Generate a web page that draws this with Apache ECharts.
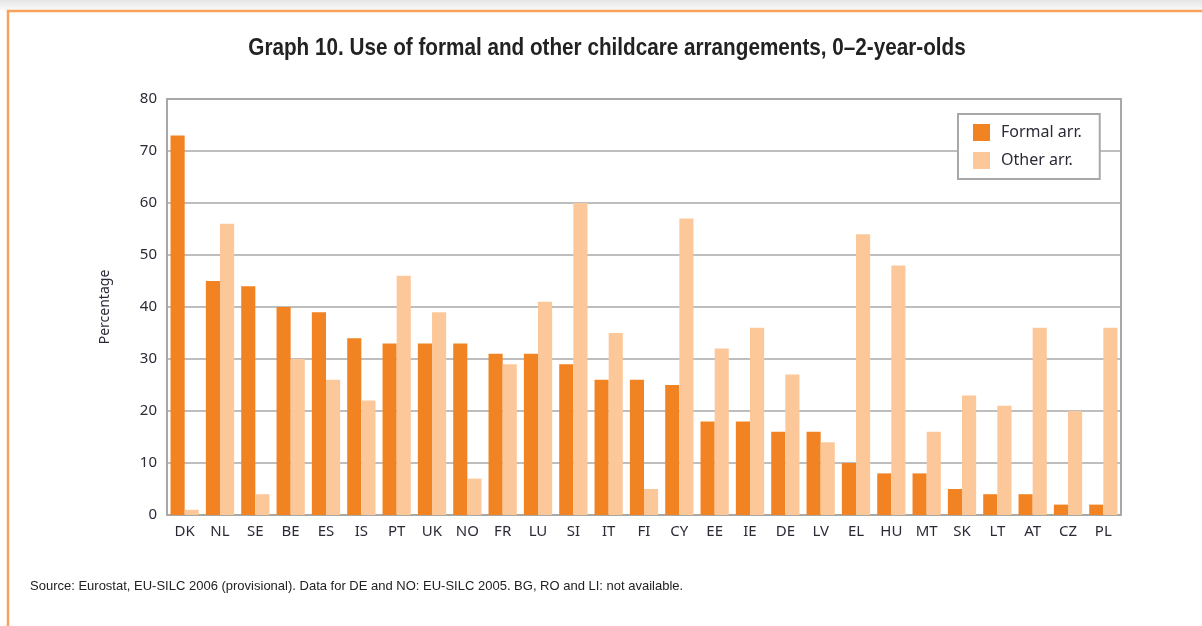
<!DOCTYPE html>
<html>
<head>
<meta charset="utf-8">
<script src="https://cdn.jsdelivr.net/npm/echarts@6/dist/echarts.min.js"></script>
<style>
  html, body { margin: 0; padding: 0; background: #fff; }
  #chart { width: 1202px; height: 626px; }
</style>
</head>
<body>
<div id="chart"></div>
<script>
const countries = ['DK', 'NL', 'SE', 'BE', 'ES', 'IS', 'PT', 'UK', 'NO', 'FR', 'LU', 'SI', 'IT', 'FI',
  'CY', 'EE', 'IE', 'DE', 'LV', 'EL', 'HU', 'MT', 'SK', 'LT', 'AT', 'CZ', 'PL'];
const formalArr = [73, 45, 44, 40, 39, 34, 33, 33, 33, 31, 31, 29, 26, 26, 25, 18, 18, 16, 16, 10, 8, 8, 5, 4, 4, 2, 2];
const otherArr = [1, 56, 4, 30, 26, 22, 46, 39, 7, 29, 41, 60, 35, 5, 57, 32, 36, 27, 14, 54, 48, 16, 23, 21, 36, 20, 36];

const textColor = '#2b2b38';
const lineGray = '#a8a8a8';
const sans = '"Liberation Sans", sans-serif';
const regular = '"Noto Sans", "Open Sans", sans-serif';

const chart = echarts.init(document.getElementById('chart'));

const options = {
  animation: false,
  graphic: [
    {
      type: 'rect',
      shape: { x: 0, y: 0, width: 1202, height: 10 },
      style: {
        fill: new echarts.graphic.LinearGradient(0, 0, 0, 1, [
          { offset: 0, color: '#e6e6e6' },
          { offset: 1, color: '#f9f9f9' }
        ])
      },
      silent: true
    },
    {
      type: 'rect',
      shape: { x: 8, y: 11, width: 1300, height: 700 },
      style: { fill: 'none', stroke: '#f7a15a', lineWidth: 2.5 },
      silent: true
    },
    {
      // condensed title: the source font is a narrow bold face
      type: 'text',
      x: 607,
      y: 48,
      scaleX: 0.862,
      style: {
        text: 'Graph 10. Use of formal and other childcare arrangements, 0\u20132-year-olds',
        font: 'bold 24px ' + sans,
        fill: '#222',
        align: 'center',
        verticalAlign: 'middle'
      },
      silent: true
    },
    {
      type: 'text',
      left: 30,
      top: 580,
      style: {
        text: 'Source: Eurostat, EU-SILC 2006 (provisional). Data for DE and NO: EU-SILC 2005. BG, RO and LI: not available.',
        font: '13px ' + sans,
        fill: '#222'
      }
    }
  ],
  legend: {
    data: ['Formal arr.', 'Other arr.'],
    orient: 'vertical',
    left: 958,
    top: 114,
    padding: [10, 18, 10, 15],
    itemWidth: 17,
    itemHeight: 17,
    itemGap: 11,
    backgroundColor: '#fff',
    borderColor: lineGray,
    borderWidth: 2,
    icon: 'rect',
    textStyle: { fontFamily: regular, fontSize: 16, color: textColor, padding: [0, 0, 0, 6] }
  },
  grid: {
    left: 167,
    right: 81,
    top: 99,
    bottom: 111,
    show: true,
    borderColor: lineGray,
    borderWidth: 2
  },
  xAxis: {
    type: 'category',
    data: countries,
    axisLine: { lineStyle: { color: lineGray, width: 2 } },
    axisTick: { inside: true, length: 6, lineStyle: { color: lineGray, width: 1.5 } },
    axisLabel: { fontFamily: regular, fontSize: 15, color: textColor, margin: 9, interval: 0 }
  },
  yAxis: {
    type: 'value',
    min: 0,
    max: 80,
    interval: 10,
    name: 'Percentage',
    nameLocation: 'middle',
    nameGap: 55,
    nameTextStyle: { fontFamily: regular, fontSize: 14, color: textColor },
    axisLine: { show: true, lineStyle: { color: lineGray, width: 2 } },
    axisTick: { show: false },
    splitLine: { lineStyle: { color: lineGray, width: 1.5 } },
    axisLabel: { fontFamily: regular, fontSize: 15, color: textColor, margin: 10 }
  },
  series: [
    {
      name: 'Formal arr.',
      type: 'bar',
      data: formalArr,
      barGap: 0,
      barCategoryGap: '20%',
      itemStyle: { color: '#f28322' }
    },
    {
      name: 'Other arr.',
      type: 'bar',
      data: otherArr,
      itemStyle: { color: '#fdc899' }
    }
  ]
};

chart.setOption(options);
</script>
</body>
</html>
